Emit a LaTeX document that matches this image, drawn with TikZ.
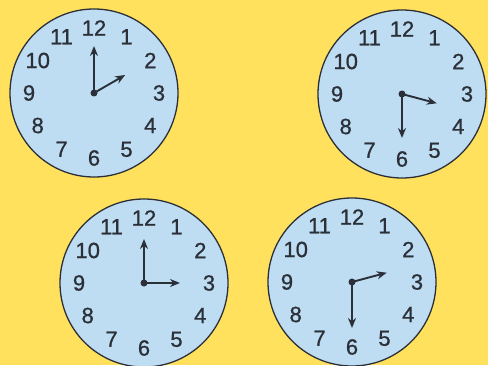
\documentclass[tikz,border=0pt]{standalone}
\usepackage{fontspec}
\setmainfont{Liberation Sans}
\newfontfamily\clockfont{Liberation Sans}[FakeBold=0.8]
\usetikzlibrary{calc,arrows.meta}
\definecolor{BackYellow}{HTML}{FFE15E}
\definecolor{FaceBlue}{HTML}{BEDCF2}
\definecolor{RimGrey}{HTML}{2B3038}

\begin{document}
\begin{tikzpicture}[x=1pt, y=1pt,
    face/.style = {circle, draw=RimGrey, line width=1.3pt, fill=FaceBlue,
      minimum size=168pt, inner sep=0pt},
    hand/.style = {line width=1.9pt, draw=RimGrey, -{Stealth[length=10pt,width=8pt]}},
    hub/.style = {circle, fill=RimGrey, minimum size=7pt, inner sep=0pt},
    digit/.style = {font=\clockfont\fontsize{22}{22}\selectfont, text=RimGrey, inner sep=0pt}
  ]
  \fill [BackYellow] (0,0) rectangle (488,365);
  \useasboundingbox (0,0) rectangle (488,365);

  % clock faces
  \node (c1) [face] at (94,272) {};
  \node (c2) [face] at (402,271) {};
  \node (c3) [face] at (144,82) {};
  \node (c4) [face] at (352,83) {};

  % numbers round each face
  \foreach \c in {c1,c2,c3,c4}
    \foreach \h in {1,...,12}
      \node (\c-\h) [digit] at ($(\c)+({90-30*\h}:65)$) {\h};

  % hand tips
  \coordinate (c1min) at ($(c1)+(90:47)$);
  \coordinate (c1hr)  at ($(c1)+(30:36)$);
  \coordinate (c2min) at ($(c2)+(-90:44)$);
  \coordinate (c2hr)  at ($(c2)+(-15:36)$);
  \coordinate (c3min) at ($(c3)+(90:44)$);
  \coordinate (c3hr)  at ($(c3)+(0:36)$);
  \coordinate (c4min) at ($(c4)+(-90:46)$);
  \coordinate (c4hr)  at ($(c4)+(15:36)$);

  \draw [hand] (c1.center) -- (c1min);
  \draw [hand] (c1.center) -- (c1hr);
  \draw [hand] (c2.center) -- (c2min);
  \draw [hand] (c2.center) -- (c2hr);
  \draw [hand] (c3.center) -- (c3min);
  \draw [hand] (c3.center) -- (c3hr);
  \draw [hand] (c4.center) -- (c4min);
  \draw [hand] (c4.center) -- (c4hr);

  \node (c1hub) [hub] at (c1.center) {};
  \node (c2hub) [hub] at (c2.center) {};
  \node (c3hub) [hub] at (c3.center) {};
  \node (c4hub) [hub] at (c4.center) {};
\end{tikzpicture}
\end{document}
